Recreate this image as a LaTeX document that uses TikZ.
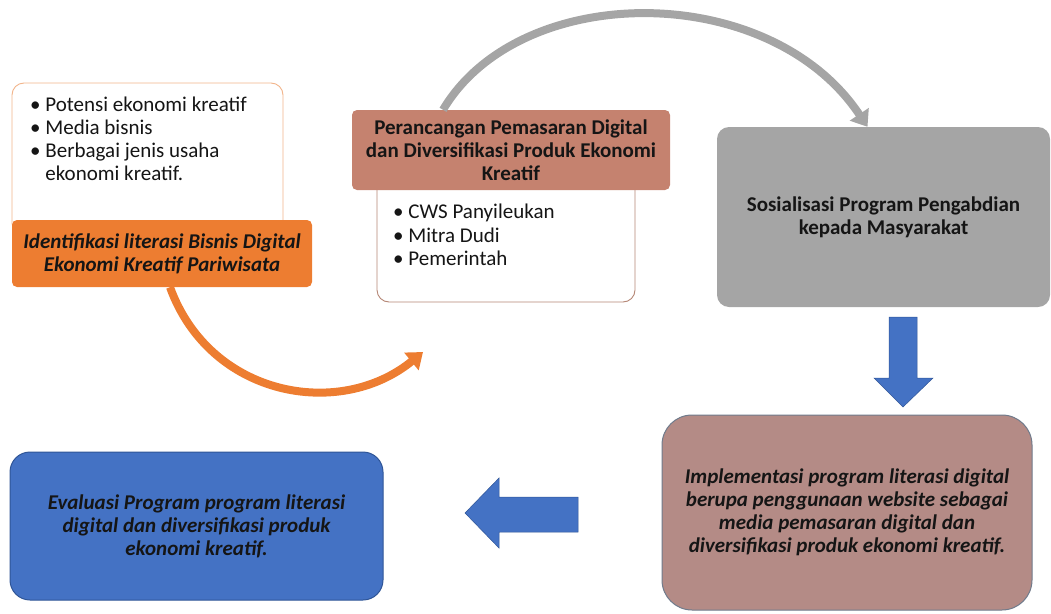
\documentclass[tikz,border=0pt]{standalone}
\usepackage{fontspec}
\setmainfont{Carlito}
\usetikzlibrary{arrows.meta}
\definecolor{orangeacc}{HTML}{ED7D31}
\definecolor{grayacc}{HTML}{A5A5A5}
\definecolor{blueacc}{HTML}{4472C4}
\definecolor{blueline}{HTML}{2F5597}
\definecolor{headerred}{HTML}{C5826F}
\definecolor{brownacc}{HTML}{B48B86}
\definecolor{slateline}{HTML}{6F7B8C}
\definecolor{cardorange}{HTML}{F2B48A}
\definecolor{cardbrown}{HTML}{B58675}
\definecolor{inktext}{HTML}{151515}
\begin{document}
\fontsize{21}{23}\selectfont
\begin{tikzpicture}[x=1pt,y=-1pt,
  card/.style={draw, rounded corners=12pt, line width=0.9pt, fill=white, inner sep=0pt},
  bar/.style={rounded corners=5pt, inner sep=0pt, align=center, text=inktext, font=\bfseries},
  panel/.style={inner sep=0pt, align=center, text=inktext, font=\bfseries},
  slanted/.style={font=\bfseries\itshape},
  bullets/.style={align=left, inner sep=0pt, anchor=north west, text=inktext},
  curve/.style={line width=8pt, -{Triangle[width=22pt,length=15pt]}},
  blockarrow/.style={fill=blueacc, draw=blueline, line width=0.5pt}]
\useasboundingbox (0,0) rectangle (1051,613);

\coordinate (orangeend) at (423,352);

% left group
\node[card, draw=cardorange, minimum width=271, minimum height=152] (potensi) at (147.5,159) {};
\node[bullets] (potensilist) at (30,97) {• Potensi ekonomi kreatif\\• Media bisnis\\• Berbagai jenis usaha\\\phantom{• }ekonomi kreatif.};
\node[bar, slanted, fill=orangeacc, minimum width=300, minimum height=67] (identifikasi) at (162,253.5) {Identifikasi literasi Bisnis Digital\\Ekonomi Kreatif Pariwisata};

% middle group
\node[card, draw=cardbrown, minimum width=258, minimum height=128] (mitra) at (506,238) {};
\node[bullets, text depth=0pt] (mitralist) at (393,204) {• CWS Panyileukan\\[0.5pt]• Mitra Dudi\\[0.5pt]• Pemerintah};
\node[bar, fill=headerred, minimum width=318, minimum height=80] (perancangan) at (511,150) {Perancangan Pemasaran Digital\\dan Diversifikasi Produk Ekonomi\\Kreatif};

% right and bottom
\node[panel, fill=grayacc, rounded corners=12pt, minimum width=333, minimum height=180] (sosialisasi) at (883.5,217) {Sosialisasi Program Pengabdian\\kepada Masyarakat};
\node[panel, slanted, fill=brownacc, draw=slateline, line width=1pt, rounded corners=30pt, minimum width=370, minimum height=195] (implementasi) at (847,512.5) {Implementasi program literasi digital\\berupa penggunaan website sebagai\\media pemasaran digital dan\\diversifikasi produk ekonomi kreatif.};
\node[panel, slanted, fill=blueacc, draw=blueline, line width=1pt, rounded corners=20pt, minimum width=373, minimum height=148] (evaluasi) at (196.5,526) {Evaluasi Program program literasi\\digital dan diversifikasi produk\\ekonomi kreatif.};

% curved arrows
\draw[curve, orangeacc] ([xshift=8]identifikasi.south) .. controls +(40,110) and +(-83,68) .. (orangeend);
\draw[curve, grayacc] ([xshift=-68]perancangan.north) .. controls (520,-20) and (770,-20) .. ([xshift=-16]sosialisasi.north);

% block arrows
\filldraw[blockarrow] (889,317) -- (917,317) -- (917,378) -- (933,378) -- (903,407) -- (874,378) -- (889,378) -- cycle;
\filldraw[blockarrow] (578,497) -- (499,497) -- (499,478) -- (465,513) -- (499,548) -- (499,532) -- (578,532) -- cycle;
\end{tikzpicture}
\end{document}
